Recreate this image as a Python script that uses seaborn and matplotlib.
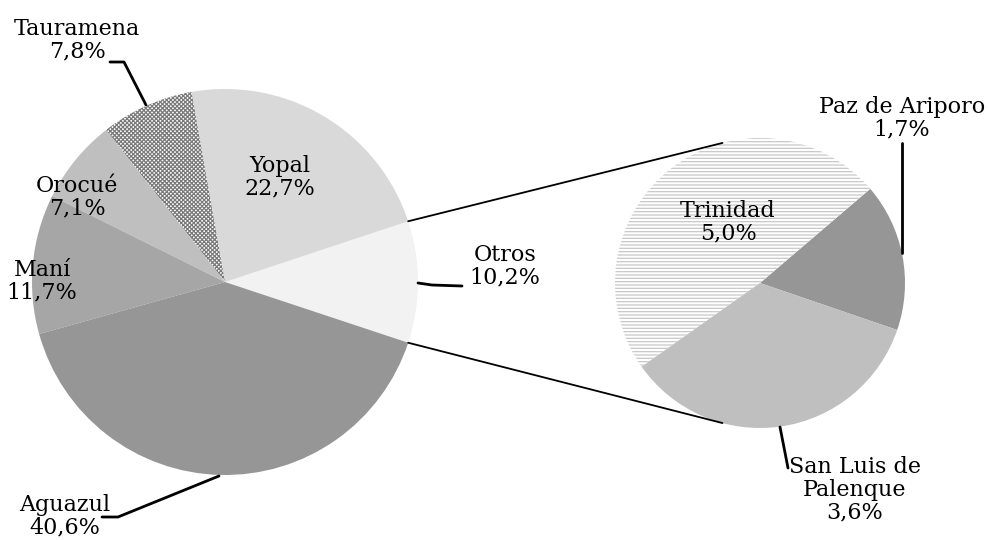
import numpy as np
import matplotlib
matplotlib.use("Agg")
import matplotlib.pyplot as plt
import seaborn as sns

# datos: pastel principal
municipios = ["Otros", "Yopal", "Tauramena", "Orocué", "Maní", "Aguazul"]
porcentajes = [10.2, 22.7, 7.8, 7.1, 11.7, 40.6]
colores = ["#f2f2f2", "#d9d9d9", "#ffffff", "#bfbfbf", "#a6a6a6", "#969696"]

# datos: desglose de "Otros"
otros_nombres = ["Paz de Ariporo", "Trinidad", "San Luis de\nPalenque"]
otros_pct = [1.7, 5.0, 3.6]
otros_colores = ["#969696", "#ffffff", "#bfbfbf"]

sns.set_theme(style="white")
plt.rcParams['font.family'] = ['DejaVu Serif']
plt.rcParams['hatch.linewidth'] = 0.9

fig = plt.figure(figsize=(9.88, 5.4), dpi=100)
ax = fig.add_axes([0, 0, 1, 1])

c1, r1 = (225, -282), 193
c2, r2 = (760, -283), 145

inicio = -360 * porcentajes[0] / sum(porcentajes) / 2
w1, _ = ax.pie(porcentajes, colors=colores, startangle=inicio, counterclock=True,
               center=c1, radius=r1, wedgeprops=dict(linewidth=0), frame=True)
w1[2].set_hatch('xxxxxxxx')
w1[2].set_edgecolor('#7a7a7a')

w2, _ = ax.pie(otros_pct, colors=otros_colores, startangle=-18.9, counterclock=True,
               center=c2, radius=r2, wedgeprops=dict(linewidth=0), frame=True)
w2[1].set_hatch('-----')
w2[1].set_edgecolor('#c8c8c8')

ax.set_xlim(0, 988)
ax.set_ylim(-540, 0)
ax.set_aspect('equal')
ax.axis('off')

# lineas de conexion entre "Otros" y el desglose
def punto(c, r, ang):
    return c[0] + r * np.cos(np.radians(ang)), c[1] + r * np.sin(np.radians(ang))

for a1, a2 in [(w1[0].theta2, 105), (w1[0].theta1, -105)]:
    p1, p2 = punto(c1, r1, a1), punto(c2, r2, a2)
    ax.plot([p1[0], p2[0]], [p1[1], p2[1]], color='black', lw=1.3)

fs = 16
def etiqueta(x, y, txt):
    ax.text(x, -y, txt, ha='center', va='center', fontsize=fs, color='black', linespacing=1.05)

def fmt(n, p):
    return f"{n}\n{p:.1f}%".replace('.', ',')

etiqueta(505, 266, fmt(municipios[0], porcentajes[0]))
etiqueta(280, 177, fmt(municipios[1], porcentajes[1]))
etiqueta(77, 40, fmt(municipios[2], porcentajes[2]))
etiqueta(77, 197, fmt(municipios[3], porcentajes[3]))
etiqueta(42, 281, fmt(municipios[4], porcentajes[4]))
etiqueta(65, 516, fmt(municipios[5], porcentajes[5]))

etiqueta(902, 118, fmt(otros_nombres[0], otros_pct[0]))
etiqueta(728, 222, fmt(otros_nombres[1], otros_pct[1]))
etiqueta(855, 490, fmt(otros_nombres[2], otros_pct[2]))

# lineas guia
guias = [
    [(110, 62), (124, 62), (146, 105)],
    [(102, 517), (118, 517), (219, 476)],
    [(418, 283), (432, 285), (462, 286)],
    [(902, 143), (902, 253)],
    [(780, 427), (788, 468)],
]
for g in guias:
    xs, ys = zip(*g)
    ax.plot(xs, [-y for y in ys], color='black', lw=2)

fig.savefig('out.png', dpi=100)
